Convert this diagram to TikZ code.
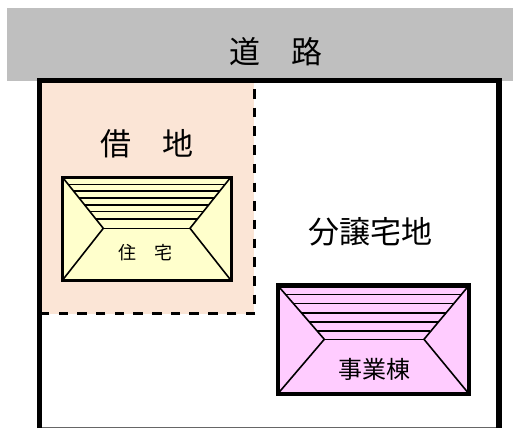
\documentclass[tikz,border=0pt]{standalone}
\usepackage{fontspec}
\newfontfamily\cjk{Noto Sans CJK JP}
\definecolor{roadgray}{HTML}{BFBFBF}
\definecolor{leasefill}{HTML}{FBE5D6}
\definecolor{housefill}{HTML}{FFFFCC}
\definecolor{officefill}{HTML}{FFCCFF}
\tikzset{
  label text/.style={font=\cjk\fontsize{#1}{#1}\selectfont,inner sep=0pt,text=black},
  lot/.style={line width=5.5pt,draw=black},
  dashline/.style={line width=3pt,draw=black,dash pattern=on 9.5pt off 9.2pt},
  roof/.style={line width=1.6pt,draw=black},
  eave/.style={line width=3pt,draw=black},
  eavethick/.style={line width=4.6pt,draw=black}
}
\begin{document}
\begin{tikzpicture}[x=1pt,y=-1pt]
\useasboundingbox (0,0) rectangle (513,428);
\fill[white] (0,0) rectangle (513,428);
% road
\fill[roadgray] (7,8) rectangle (513,81);
\node[label text=31] (road) at (275.5,52) {道\hspace{1em}路};
% leased land
\fill[leasefill] (39.5,80.5) rectangle (254,313.5);
% lot boundary
\draw[line width=1pt,draw=black!60] (39.5,427.5) -- (498.8,427.5);
\draw[lot] (39.5,428) -- (39.5,80.5) -- (498.8,80.5) -- (498.8,428);
\draw[dashline,dash phase=12.7] (254,83) -- (254,304);
\draw[dashline] (255,313.5) -- (42,313.5);
\node[label text=31] (leased) at (147,144) {借\hspace{1em}地};
\node[label text=31] (sale) at (370,232) {分譲宅地};
% house
\fill[housefill] (62.3,177) rectangle (231,280.4);
\draw[roof] (62.3,177) -- (103.3,228.3) -- (62.3,280.4);
\draw[roof] (231,177) -- (190,228.3) -- (231,280.4);
\draw[roof] (103.3,228.3) -- (190,228.3);
\foreach \y/\a/\b in {184.3/67.9/225.4, 191/73.3/220, 197.7/78.7/214.6, 204.7/84.3/209, 211.3/89.6/203.7, 218.7/95.6/197.7}
  \draw[roof] (\a,\y) -- (\b,\y);
\draw[eave] (62.3,177) rectangle (231,280.4);
\node[label text=18] (jutaku) at (145,253) {住\hspace{1em}宅};
% office
\fill[officefill] (277.8,285.5) rectangle (468.9,393.8);
\draw[roof] (277.8,285.5) -- (324.3,339.3) -- (277.8,393.8);
\draw[roof] (468.9,285.5) -- (424,339.3) -- (468.9,393.8);
\draw[roof] (324.3,339.3) -- (424,339.3);
\foreach \y/\a/\b in {294.3/285.6/461.4, 303.3/293.3/453.7, 312.7/301.4/445.6, 321.7/309.2/437.8, 330.7/316.9/430.1}
  \draw[roof] (\a,\y) -- (\b,\y);
\draw[eavethick] (277.8,285.5) rectangle (468.9,393.8);
\node[label text=24] (jigyo) at (374,369.5) {事業棟};
\end{tikzpicture}
\end{document}
